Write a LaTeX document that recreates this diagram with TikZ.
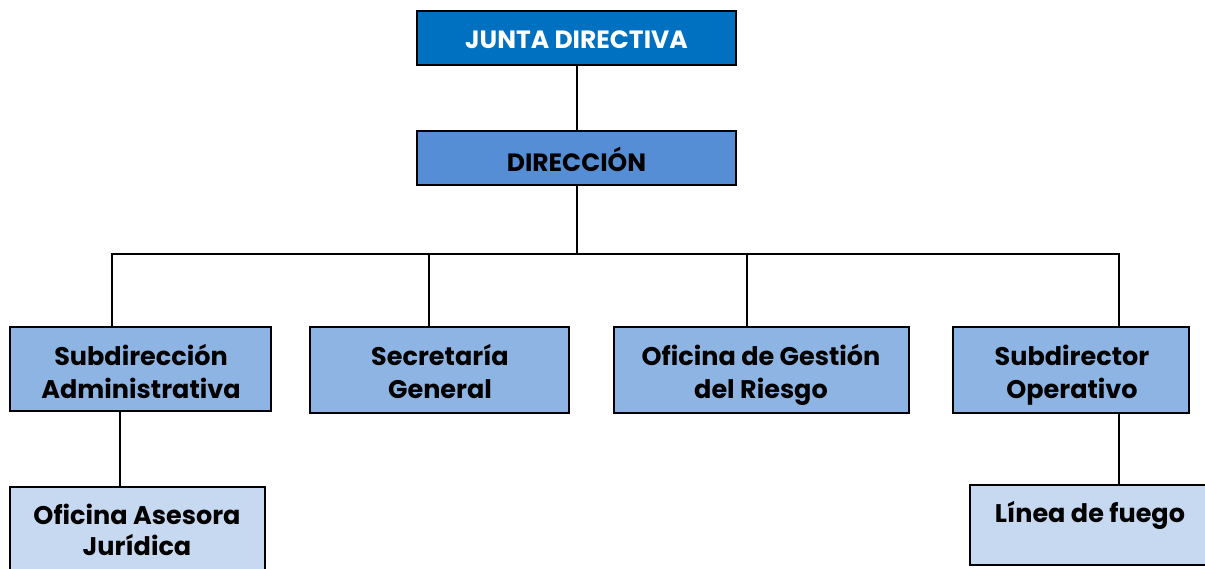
\documentclass[tikz,border=0pt]{standalone}
\usepackage{fontspec}
\setmainfont{Poppins}
\usetikzlibrary{calc}
\definecolor{jdblue}{HTML}{0070C0}
\definecolor{dirblue}{HTML}{558ED5}
\definecolor{midblue}{HTML}{8EB4E3}
\definecolor{lightblue}{HTML}{C6D9F1}
\tikzset{
  box/.style={draw=black, line width=1.5pt, rectangle, inner sep=0pt, align=center},
  lbl/.style={align=center, inner sep=0pt, font=\bfseries\fontsize{25.5}{33}\selectfont},
  conn/.style={line width=2pt}
}
\begin{document}
\begin{tikzpicture}[x=1pt,y=-1pt]
\useasboundingbox (0,0) rectangle (1205,569);
% top
\node[box, fill=jdblue, minimum width=319pt, minimum height=54pt] (jd) at (576.5,38) {};
\node[lbl, text=white, font=\bfseries\fontsize{25}{33}\selectfont] (jdt) at (576.5,40) {JUNTA DIRECTIVA};
\node[box, fill=dirblue, minimum width=319pt, minimum height=54pt] (dir) at (576.5,158) {};
\node[lbl, font=\bfseries\fontsize{25}{33}\selectfont] (dirt) at (576.5,159) {DIRECCIÓN};
% second row
\node[box, fill=midblue, minimum width=261pt, minimum height=84pt] (sa) at (140.5,369) {};
\node[box, fill=midblue, minimum width=259pt, minimum height=86pt] (sg) at (439.5,370) {};
\node[box, fill=midblue, minimum width=295pt, minimum height=86pt] (og) at (761.5,370) {};
\node[box, fill=midblue, minimum width=236pt, minimum height=86pt] (so) at (1071,370) {};
\node[lbl] (sat) at (141,375.5) {\strut Subdirección\\\strut Administrativa};
\node[lbl] (sgt) at (440,375.5) {\strut Secretaría\\\strut General};
\node[lbl] (ogt) at (761,375.5) {\strut Oficina de Gestión\\\strut del Riesgo};
\node[lbl] (sot) at (1072,375.5) {\strut Subdirector\\\strut Operativo};
% third row
\node[box, fill=lightblue, minimum width=255pt, minimum height=110pt] (oaj) at (137.5,542) {};
\node[lbl, font=\bfseries\fontsize{25.5}{31}\selectfont] (oajt) at (137,534) {\strut Oficina Asesora\\\strut Jurídica};
\node[box, fill=lightblue, minimum width=260pt, minimum height=80pt] (lf) at (1100,525) {};
\node[lbl] (lft) at (1090,516) {\strut Línea de fuego};
% connectors
\coordinate (busL) at (112,254);
\coordinate (busR) at (1119,254);
\coordinate (dsg) at (429,254);
\coordinate (dog) at (747,254);
\draw[conn] (jd.south) -- (dir.north);
\draw[conn] (dir.south) -- (dir.south |- busL);
\draw[conn] (busL |- sa.north) -- (busL) -- (busR) -- (busR |- so.north);
\draw[conn] (dsg) -- (dsg |- sg.north);
\draw[conn] (dog) -- (dog |- og.north);
\coordinate (dsa) at (120,411);
\draw[conn] (dsa |- sa.south) -- (dsa |- oaj.north);
\draw[conn] (busR |- so.south) -- (busR |- lf.north);
\end{tikzpicture}
\end{document}
